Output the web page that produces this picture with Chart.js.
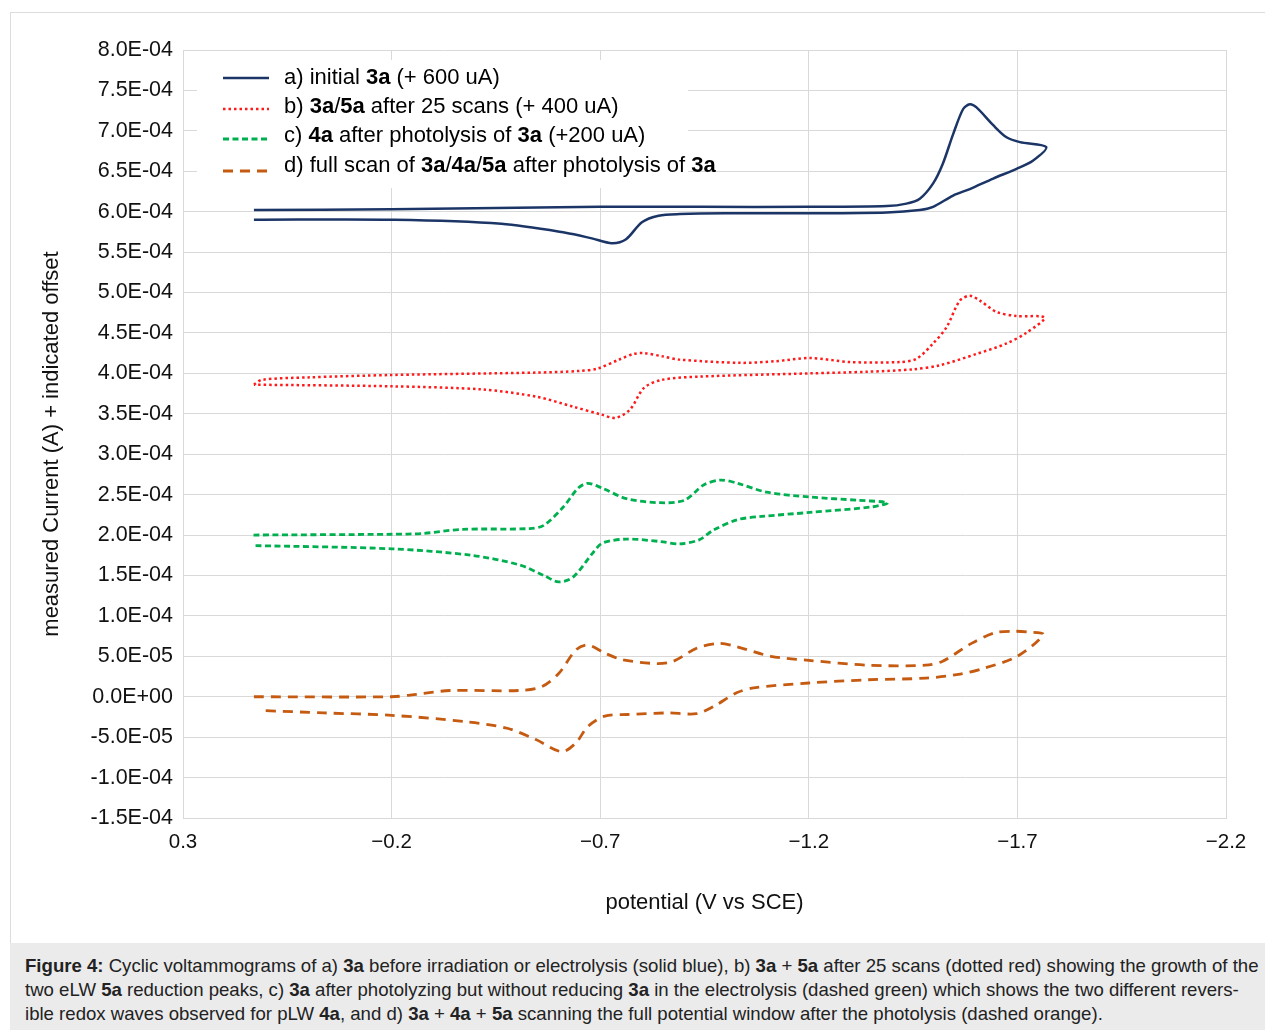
<!doctype html>
<html>
  <head>
    <meta charset="utf-8" />
    <script src="https://cdn.jsdelivr.net/npm/chart.js"></script>
    <style>
      html,
      body {
        margin: 0;
        padding: 0;
        background: #fff;
      }
      body {
        width: 1265px;
        height: 1030px;
        position: relative;
        overflow: hidden;
        font-family: "Liberation Sans", Arial, Helvetica, sans-serif;
      }
      #frame {
        position: absolute;
        left: 10px;
        top: 12px;
        width: 1255px;
        height: 931px;
        border-top: 1px solid #dcdcdc;
        border-left: 1px solid #dcdcdc;
        box-sizing: border-box;
      }
      #wrap {
        position: absolute;
        left: 0;
        top: 0;
        width: 1265px;
        height: 943px;
      }
      #caption {
        position: absolute;
        left: 10px;
        top: 943px;
        width: 1255px;
        height: 87px;
        background: #ebebeb;
        box-sizing: border-box;
        padding: 11px 0 0 15px;
        font-size: 18.6px;
        line-height: 24px;
        color: #222;
        white-space: nowrap;
      }
    </style>
  </head>
  <body>
    <div id="frame"></div>
    <div id="wrap"><canvas id="cvChart" width="1265" height="943"></canvas></div>
    <div id="caption">
      <b>Figure 4:</b> Cyclic voltammograms of a) <b>3a</b> before irradiation or electrolysis (solid blue), b) <b>3a</b> + <b>5a</b> after 25 scans (dotted red) showing the growth of the<br />
      two eLW <b>5a</b> reduction peaks, c) <b>3a</b> after photolyzing but without reducing <b>3a</b> in the electrolysis (dashed green) which shows the two different revers-<br />
      ible redox waves observed for pLW <b>4a</b>, and d) <b>3a</b> + <b>4a</b> + <b>5a</b> scanning the full potential window after the photolysis (dashed orange).
    </div>
    <script>
      // axis ticks
      const xTicks = [0.3, -0.2, -0.7, -1.2, -1.7, -2.2];
      const yTicks = [
        8e-4, 7.5e-4, 7e-4, 6.5e-4, 6e-4, 5.5e-4, 5e-4, 4.5e-4, 4e-4, 3.5e-4,
        3e-4, 2.5e-4, 2e-4, 1.5e-4, 1e-4, 5e-5, 0, -5e-5, -1e-4, -1.5e-4,
      ];

      // a) initial 3a (+600 uA) - potential (V) / current (A)
      const potA = [
        0.13, -0.2, -0.5, -0.7, -0.94, -1.2, -1.387, -1.434, -1.466, -1.498,
        -1.521, -1.546, -1.57, -1.586, -1.602, -1.642, -1.674, -1.706, -1.769,
        -1.737, -1.698, -1.642, -1.586, -1.546, -1.498, -1.466, -1.387, -1.2,
        -1.0, -0.891, -0.84, -0.8, -0.762, -0.728, -0.68, -0.617, -0.463,
        -0.206, 0.13,
      ];
      const curA = [
        6.02e-4, 6.03e-4, 6.05e-4, 6.06e-4, 6.06e-4, 6.06e-4, 6.07e-4, 6.1e-4,
        6.16e-4, 6.35e-4, 6.59e-4, 6.96e-4, 7.27e-4, 7.33e-4, 7.29e-4, 7.07e-4,
        6.92e-4, 6.86e-4, 6.8e-4, 6.63e-4, 6.53e-4, 6.41e-4, 6.28e-4, 6.2e-4,
        6.06e-4, 6.02e-4, 5.99e-4, 5.98e-4, 5.98e-4, 5.97e-4, 5.95e-4, 5.87e-4,
        5.66e-4, 5.61e-4, 5.67e-4, 5.74e-4, 5.85e-4, 5.9e-4, 5.9e-4,
      ];

      // b) 3a/5a after 25 scans (+400 uA)
      const potB = [
        0.13, 0.111, 0.0, -0.2, -0.548, -0.65, -0.694, -0.745, -0.78, -0.805,
        -0.85, -0.891, -1.036, -1.12, -1.203, -1.299, -1.418, -1.458, -1.498,
        -1.53, -1.562, -1.586, -1.61, -1.65, -1.698, -1.765, -1.721, -1.674,
        -1.602, -1.514, -1.45, -1.339, -1.203, -0.94, -0.848, -0.805, -0.771,
        -0.737, -0.703, -0.634, -0.548, -0.42, -0.2, 0.13,
      ];
      const curB = [
        3.86e-4, 3.92e-4, 3.95e-4, 3.98e-4, 4.01e-4, 4.03e-4, 4.06e-4, 4.17e-4,
        4.24e-4, 4.25e-4, 4.21e-4, 4.17e-4, 4.13e-4, 4.15e-4, 4.19e-4, 4.14e-4,
        4.14e-4, 4.18e-4, 4.37e-4, 4.57e-4, 4.9e-4, 4.96e-4, 4.9e-4, 4.76e-4,
        4.71e-4, 4.69e-4, 4.5e-4, 4.37e-4, 4.24e-4, 4.1e-4, 4.05e-4, 4.02e-4,
        4.0e-4, 3.96e-4, 3.92e-4, 3.82e-4, 3.55e-4, 3.45e-4, 3.49e-4, 3.59e-4,
        3.71e-4, 3.8e-4, 3.84e-4, 3.86e-4,
      ];

      // c) 4a after photolysis of 3a (+200 uA)
      const potC = [
        0.131, -0.2, -0.275, -0.368, -0.531, -0.565, -0.612, -0.647, -0.67,
        -0.705, -0.763, -0.844, -0.902, -0.948, -0.989, -1.029, -1.099, -1.203,
        -1.319, -1.389, -1.354, -1.203, -1.087, -1.029, -0.971, -0.937, -0.89,
        -0.844, -0.763, -0.705, -0.681, -0.635, -0.6, -0.565, -0.507, -0.391,
        -0.2, 0.131,
      ];
      const curC = [
        2.0e-4, 2.01e-4, 2.02e-4, 2.07e-4, 2.08e-4, 2.12e-4, 2.35e-4, 2.58e-4,
        2.64e-4, 2.58e-4, 2.45e-4, 2.4e-4, 2.43e-4, 2.62e-4, 2.68e-4, 2.64e-4,
        2.53e-4, 2.47e-4, 2.43e-4, 2.4e-4, 2.35e-4, 2.28e-4, 2.23e-4, 2.19e-4,
        2.06e-4, 1.94e-4, 1.89e-4, 1.92e-4, 1.95e-4, 1.9e-4, 1.77e-4, 1.48e-4,
        1.42e-4, 1.5e-4, 1.63e-4, 1.75e-4, 1.83e-4, 1.87e-4,
      ];

      // d) full scan of 3a/4a/5a after photolysis of 3a
      const potD = [
        0.13, -0.2, -0.26, -0.34, -0.505, -0.56, -0.601, -0.642, -0.67, -0.711,
        -0.752, -0.835, -0.876, -0.931, -0.986, -1.027, -1.109, -1.2, -1.343,
        -1.48, -1.521, -1.59, -1.645, -1.687, -1.728, -1.762, -1.7, -1.618,
        -1.563, -1.48, -1.343, -1.2, -1.068, -1.027, -0.972, -0.931, -0.862,
        -0.766, -0.711, -0.67, -0.642, -0.608, -0.546, -0.477, -0.381, -0.2,
        -0.038, 0.113,
      ];
      const curD = [
        0.0, 0.0, 3e-6, 7.7e-6, 7.7e-6, 1.26e-5, 2.9e-5, 5.8e-5, 6.4e-5, 5.4e-5,
        4.6e-5, 4.1e-5, 4.4e-5, 6.0e-5, 6.6e-5, 6.2e-5, 5.0e-5, 4.5e-5, 3.9e-5,
        3.9e-5, 4.4e-5, 6.6e-5, 7.9e-5, 8.1e-5, 8.0e-5, 7.7e-5, 5.0e-5, 3.5e-5,
        2.8e-5, 2.3e-5, 2.1e-5, 1.7e-5, 1.1e-5, 4.9e-6, -1.2e-5, -2.1e-5,
        -2.0e-5, -2.2e-5, -2.4e-5, -3.7e-5, -5.7e-5, -6.8e-5, -5.3e-5, -3.9e-5,
        -3.1e-5, -2.3e-5, -2.0e-5, -1.7e-5,
      ];

      // legend text, bold parts flagged
      const legendRows = [
        [["a) initial ", false], ["3a", true], [" (+ 600 uA)", false]],
        [["b) ", false], ["3a", true], ["/", false], ["5a", true], [" after 25 scans (+ 400 uA)", false]],
        [["c) ", false], ["4a", true], [" after photolysis of ", false], ["3a", true], [" (+200 uA)", false]],
        [["d) full scan of ", false], ["3a", true], ["/", false], ["4a", true], ["/", false], ["5a", true], [" after photolysis of ", false], ["3a", true]],
      ];
      const yTitle = "measured Current (A) + indicated offset";

      const FONT = '"Liberation Sans", Arial, Helvetica, sans-serif';
      Chart.defaults.font.family = FONT;
      Chart.defaults.color = "#111";

      function pts(xs, ys) {
        return xs.map((x, i) => ({ x: x, y: ys[i] }));
      }

      function sciLabel(v) {
        if (Math.abs(v) < 1e-12) return "0.0E+00";
        const parts = Number(v).toExponential(1).split("e");
        const e = parseInt(parts[1], 10);
        return parts[0] + "E" + (e < 0 ? "-" : "+") + String(Math.abs(e)).padStart(2, "0");
      }

      // legend drawn by hand because of the bold compound numbers
      const cvLegend = {
        id: "cvLegend",
        afterDatasetsDraw(chart) {
          const ctx = chart.ctx;
          ctx.save();
          ctx.fillStyle = "#fff";
          ctx.fillRect(197, 60, 491, 128);
          const textY = [78, 107, 136, 166];
          const lineY = [78, 109, 139, 171];
          legendRows.forEach((row, i) => {
            const ds = chart.data.datasets[i];
            ctx.strokeStyle = ds.borderColor;
            ctx.lineWidth = ds.borderWidth;
            ctx.setLineDash(ds.borderDash || []);
            ctx.beginPath();
            ctx.moveTo(223, lineY[i]);
            ctx.lineTo(269, lineY[i]);
            ctx.stroke();
            ctx.setLineDash([]);
            let x = 284;
            ctx.fillStyle = "#000";
            ctx.textBaseline = "middle";
            row.forEach(([txt, bold]) => {
              ctx.font = (bold ? "bold " : "") + "22px " + FONT;
              ctx.fillText(txt, x, textY[i]);
              x += ctx.measureText(txt).width;
            });
          });
          // rotated y axis title
          ctx.translate(52, 444);
          ctx.rotate(-Math.PI / 2);
          ctx.font = "22px " + FONT;
          ctx.fillStyle = "#111";
          ctx.textAlign = "center";
          ctx.fillText(yTitle, 0, 0);
          ctx.restore();
        },
      };

      const ctx = document.getElementById("cvChart").getContext("2d");
      const cvChart = new Chart(ctx, {
        type: "scatter",
        data: {
          datasets: [
            {
              label: "a) initial 3a (+ 600 uA)",
              data: pts(potA, curA),
              borderColor: "#1c3567",
              borderWidth: 2.5,
            },
            {
              label: "b) 3a/5a after 25 scans (+ 400 uA)",
              data: pts(potB, curB),
              borderColor: "#ff1a1a",
              borderWidth: 2.5,
              borderDash: [2.5, 3],
            },
            {
              label: "c) 4a after photolysis of 3a (+200 uA)",
              data: pts(potC, curC),
              borderColor: "#00b050",
              borderWidth: 2.8,
              borderDash: [6, 3.5],
            },
            {
              label: "d) full scan of 3a/4a/5a after photolysis of 3a",
              data: pts(potD, curD),
              borderColor: "#c55a11",
              borderWidth: 2.8,
              borderDash: [10, 7],
            },
          ],
        },
        options: {
          responsive: false,
          animation: false,
          devicePixelRatio: 1,
          showLine: true,
          elements: {
            point: { radius: 0, hoverRadius: 0 },
            line: { tension: 0.3, fill: false },
          },
          layout: { padding: { left: 0, top: 50, right: 39, bottom: 0 } },
          plugins: {
            legend: { display: false },
            tooltip: { enabled: false },
          },
          scales: {
            x: {
              type: "linear",
              min: -2.2,
              max: 0.3,
              reverse: true,
              afterBuildTicks: (s) => {
                s.ticks = xTicks.map((v) => ({ value: v }));
              },
              afterFit: (s) => {
                s.height = 125;
              },
              ticks: {
                autoSkip: false,
                maxRotation: 0,
                padding: 12,
                font: { size: 20.5 },
                color: "#111",
                callback: (v) => (v < 0 ? "\u2212" + Math.abs(v).toFixed(1) : v.toFixed(1)),
              },
              grid: { color: "#d9d9d9", lineWidth: 1, drawTicks: false },
              border: { color: "#d9d9d9" },
              title: {
                display: true,
                text: "potential (V vs SCE)",
                font: { size: 22 },
                color: "#111",
                padding: { top: 0, bottom: 27 },
              },
            },
            y: {
              min: -1.5e-4,
              max: 8e-4,
              afterBuildTicks: (s) => {
                s.ticks = yTicks.map((v) => ({ value: v }));
              },
              afterFit: (s) => {
                s.width = 183;
              },
              ticks: {
                autoSkip: false,
                padding: 10,
                font: { size: 21.5 },
                color: "#111",
                callback: (v) => sciLabel(v),
              },
              grid: { color: "#d9d9d9", lineWidth: 1, drawTicks: false },
              border: { color: "#d9d9d9" },
            },
          },
        },
        plugins: [cvLegend],
      });
    </script>
  </body>
</html>
